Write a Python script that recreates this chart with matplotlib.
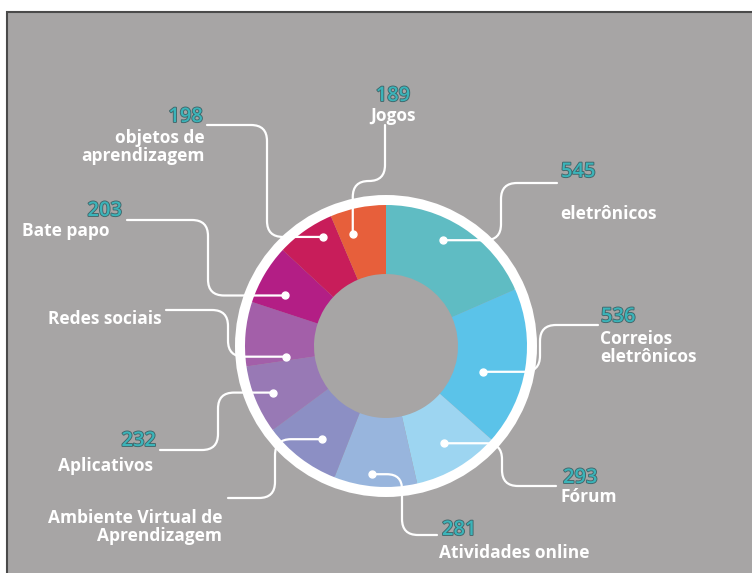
import numpy as np
import matplotlib
matplotlib.use("Agg")
import matplotlib.pyplot as plt
from matplotlib.path import Path
from matplotlib.patches import PathPatch, Rectangle
import matplotlib.patheffects as pe

# data, clockwise from the top
names = ["eletrônicos", "Correios\neletrônicos", "Fórum", "Atividades online",
         "Ambiente Virtual de\nAprendizagem", "Aplicativos", "Redes sociais",
         "Bate papo", "objetos de\naprendizagem", "Jogos"]
values = [545, 536, 293, 281, 263, 232, 218, 203, 198, 189]
shown = ["545", "536", "293", "281", "", "232", "", "203", "198", "189"]
colors = ["#5fbcc3", "#5bc3e9", "#9dd5f1", "#98b5dd", "#8c8fc4",
          "#9879b5", "#a35fa9", "#b31e85", "#c81d5a", "#e75f3b"]

BG = "#a7a5a5"
NUM_COLOR = "#3bb4b9"
CX, CY = 386, 346
R_RING, R_OUT, R_IN = 151, 141, 72

# where the white dot sits inside each wedge (radius px, angle nudge in degrees)
dot_r = [120, 100, 113, 129, 113, 122, 101, 113, 126, 117]
dot_nudge = [-5, 6, 0, 2, -3, 0, -11, -4, 5, -5]

# leader route: exit direction, turn coordinate, end point (image pixels)
routes = [("h", 501, (557, 183)), ("h", 540, (598, 325)), ("h", 502, (556, 486)),
          ("h", 402, (437, 535)), ("h", 275, (228, 498)), ("h", 218, (160, 450)),
          ("h", 228, (166, 310)), ("h", 208, (127, 220)), ("h", 267, (207, 125)),
          ("v", 181, (385, 125))]
# text placement: (number xy, label xy, ha)
texts = [((561, 172), (560, 214), "left"), ((601, 317), (600, 348), "left"),
         ((563, 478), (561, 497), "left"), ((442, 530), (439, 553), "left"),
         (None, (222, 527), "right"), ((156, 441), (153, 466), "right"),
         (None, (162, 319), "right"), ((122, 211), (110, 231), "right"),
         ((203, 117), (205, 147), "right"), ((393, 96), (393, 116), "center")]


def rounded_path(pts, r=16):
    verts = [pts[0]]
    codes = [Path.MOVETO]
    for i in range(1, len(pts) - 1):
        p0, p1, p2 = np.array(pts[i - 1], float), np.array(pts[i], float), np.array(pts[i + 1], float)
        d1 = np.linalg.norm(p1 - p0)
        d2 = np.linalg.norm(p2 - p1)
        rr = min(r, d1 / 2, d2 / 2)
        a = p1 + (p0 - p1) / max(d1, 1e-9) * rr
        b = p1 + (p2 - p1) / max(d2, 1e-9) * rr
        verts += [tuple(a), tuple(p1), tuple(b)]
        codes += [Path.LINETO, Path.CURVE3, Path.CURVE3]
    verts.append(pts[-1])
    codes.append(Path.LINETO)
    return Path(verts, codes)


fig = plt.figure(figsize=(7.52, 5.73), dpi=100, facecolor="white")
ax = fig.add_axes([0, 0, 1, 1])

ax.add_patch(Rectangle((7, 12), 760, 580, facecolor=BG, edgecolor="#4a4a4a", lw=1.5, zorder=0))

# white ring
ax.pie([1], radius=R_RING, center=(CX, CY), colors=["white"], startangle=-90,
       wedgeprops=dict(width=R_RING - R_OUT + 1, linewidth=0))
# donut
ax.pie(values, radius=R_OUT, center=(CX, CY), colors=colors, startangle=-90,
       counterclock=True, wedgeprops=dict(width=R_OUT - R_IN, linewidth=0))
ax.set_xlim(0, 752)
ax.set_ylim(573, 0)
ax.set_aspect("equal")
ax.axis("off")

total = float(sum(values))
cum = np.cumsum([0] + values[:-1])
font = "Open Sans"
for i, v in enumerate(values):
    ang = np.deg2rad(-90 + 360 * (cum[i] + v / 2) / total + dot_nudge[i])
    dx, dy = CX + dot_r[i] * np.cos(ang), CY + dot_r[i] * np.sin(ang)
    kind, t, (ex, ey) = routes[i]
    if kind == "h":
        pts = [(dx, dy), (t, dy), (t, ey), (ex, ey)]
    else:
        pts = [(dx, dy), (dx, t), (ex, t), (ex, ey)]
    ax.add_patch(PathPatch(rounded_path(pts), facecolor="none", edgecolor="white",
                           lw=1.6, zorder=5, capstyle="round"))
    ax.plot(dx, dy, "o", color="white", ms=5, zorder=6)

    num_xy, lab_xy, ha = texts[i]
    if num_xy is not None and shown[i]:
        ax.text(num_xy[0], num_xy[1], shown[i], ha=ha, va="center", fontsize=14.5,
                fontweight="semibold", family=font, color=NUM_COLOR, zorder=7,
                path_effects=[pe.withStroke(linewidth=1.3, foreground="#42666a")])
    ax.text(lab_xy[0], lab_xy[1], names[i], ha=ha, va="center", fontsize=12.5,
            fontweight="bold", family=font, color="white", zorder=7,
            multialignment=ha if ha != "center" else "center", linespacing=1.05)

fig.savefig("out.png", dpi=100, facecolor="white")
